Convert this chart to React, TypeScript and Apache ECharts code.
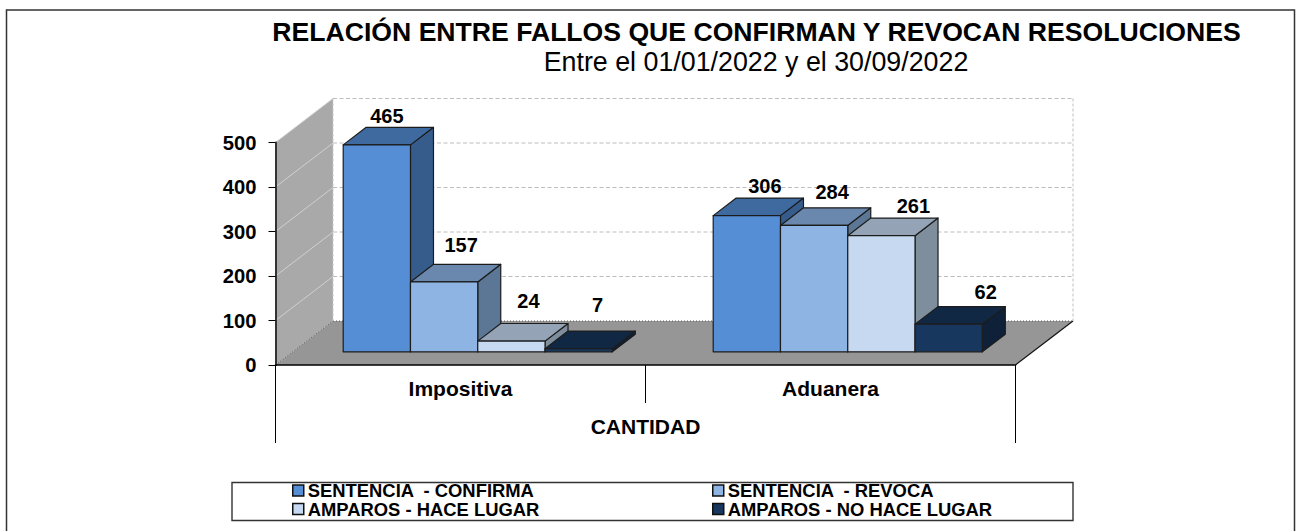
import React, { useEffect, useRef } from "react";
import * as echarts from "echarts";

const categories = ["Impositiva", "Aduanera"];
const outerCategories = ["CANTIDAD"];
const seriesNames = ["SENTENCIA  - CONFIRMA", "SENTENCIA  - REVOCA", "AMPAROS - HACE LUGAR", "AMPAROS - NO HACE LUGAR"];
const confirma = [465, 306];
const revoca = [157, 284];
const haceLugar = [24, 261];
const noHaceLugar = [7, 62];
const tickValues = [0, 100, 200, 300, 400, 500];

const frontColors = ["#558ED5", "#8EB4E3", "#C6D9F1", "#17375E"];
const topColors = ["#3F6AA0", "#6A87AD", "#95A3B6", "#112845"];
const sideColors = ["#365C8C", "#5C7796", "#7F8E9D", "#0E2139"];
// label offsets (from front-centre x, back-top y) per series, per category
const labelNudge = [
  [[10, -11], [18, -12]],
  [[17, -19], [18, -16]],
  [[17, -23], [32, -12]],
  [[19, -26], [37, -15]],
];
const FONT = "'Liberation Sans', Arial, sans-serif";
const DX = 57.5;
const DY = -44;
const BASE = 0.3;
const DEPTH = 0.4;
const STROKE = "#1c1c1c";

function wallItem(params: any, api: any) {
  const v = api.value(1);
  const c = params.coordSys;
  const x0 = c.x;
  const x1 = c.x + c.width;
  const y = api.coord([0, v])[1];
  const y0 = c.y + c.height;
  const children: any[] = [];
  if (v === 0) {
    const yTop = c.y;
    children.push({
      type: "polygon",
      shape: { points: [[x0, yTop], [x0 + DX, yTop + DY], [x0 + DX, y0 + DY], [x0, y0]] },
      style: { fill: "#A9A9A9" },
    });
    children.push({
      type: "polygon",
      shape: { points: [[x0, y0], [x1, y0], [x1 + DX, y0 + DY], [x0 + DX, y0 + DY]] },
      style: { fill: "#969696" },
    });
    children.push({ type: "line", shape: { x1, y1: y0, x2: x1 + DX, y2: y0 + DY }, style: { stroke: "#111", lineWidth: 1.2 } });
    children.push({ type: "line", shape: { x1: x0, y1: y0, x2: x0 + DX, y2: y0 + DY }, style: { stroke: "#555", lineWidth: 1, lineDash: [1, 2] } });
    children.push({ type: "line", shape: { x1: x0 + DX, y1: y0 + DY, x2: x1 + DX, y2: y0 + DY }, style: { stroke: "#555", lineWidth: 1, lineDash: [1, 2] } });
    children.push({ type: "line", shape: { x1: x1 + DX, y1: yTop + DY, x2: x1 + DX, y2: y0 + DY }, style: { stroke: "#BDBDBD", lineWidth: 1, lineDash: [3, 2] } });
    children.push({ type: "line", shape: { x1: x0 + DX, y1: yTop + DY, x2: x0 + DX, y2: y0 + DY }, style: { stroke: "#C8C8C8", lineWidth: 1, lineDash: [3, 2] } });
  } else {
    children.push({ type: "line", shape: { x1: x0, y1: y, x2: x0 + DX, y2: y + DY }, style: { stroke: "#D0D0D0", lineWidth: 1 } });
    children.push({ type: "line", shape: { x1: x0 + DX, y1: y + DY, x2: x1 + DX, y2: y + DY }, style: { stroke: "#BDBDBD", lineWidth: 1, lineDash: [4, 2.5] } });
  }
  return { type: "group", children };
}

function barRenderer(s: number) {
  return (params: any, api: any) => {
    const cat = api.value(0);
    const val = api.value(1);
    const band = api.size([1, 0])[0];
    const w = band / 5.5;
    const centre = api.coord([cat, 0]);
    const top = api.coord([cat, val]);
    const ox = DX * BASE;
    const oy = DY * BASE;
    const dx = DX * DEPTH;
    const dy = DY * DEPTH;
    const l = centre[0] - 2 * w + s * w + ox;
    const r = l + w;
    const b = centre[1] + oy;
    const t = top[1] + oy;
    const style = (fill: string) => ({ fill, stroke: STROKE, lineWidth: 1.2, lineJoin: "round" });
    const [nx, ny] = labelNudge[s][cat];
    return {
      type: "group",
      children: [
        { type: "polygon", shape: { points: [[r, b], [r + dx, b + dy], [r + dx, t + dy], [r, t]] }, style: style(sideColors[s]) },
        { type: "polygon", shape: { points: [[l, t], [r, t], [r + dx, t + dy], [l + dx, t + dy]] }, style: style(topColors[s]) },
        { type: "rect", shape: { x: l, y: t, width: w, height: b - t }, style: style(frontColors[s]) },
        {
          type: "text",
          z2: 50,
          x: (l + r) / 2 + nx,
          y: t + dy + ny,
          style: {
            text: String(val),
            fill: "#000",
            font: `bold 20px ${FONT}`,
            align: "center",
            verticalAlign: "middle",
          },
        },
      ],
    };
  };
}

export default function App() {
  const ref = useRef<HTMLDivElement>(null);
  useEffect(() => {
    document.body.style.margin = "0";
    const chart = echarts.init(ref.current!, null, { renderer: "svg" });
    const values = [confirma, revoca, haceLugar, noHaceLugar];
    const legendBase = {
      top: 481.5,
      orient: "vertical",
      itemWidth: 11,
      itemHeight: 11,
      itemGap: 0.5,
      padding: 0,
      icon: "rect",
      textStyle: { fontFamily: FONT, fontWeight: "bold", fontSize: 18.4, lineHeight: 16, color: "#000", padding: [0, 0, 0, -1] },
      itemStyle: { borderColor: "#111", borderWidth: 1.5 },
      selectedMode: false,
    };
    chart.setOption({
      animation: false,
      backgroundColor: "#fff",
      title: [
        {
          text: "RELACIÓN ENTRE FALLOS QUE CONFIRMAN Y REVOCAN RESOLUCIONES",
          left: 751.5,
          textAlign: "center",
          top: 13,
          textStyle: { fontFamily: FONT, fontWeight: "bold", fontSize: 26.6, color: "#000" },
        },
        {
          text: "Entre el 01/01/2022 y el 30/09/2022",
          left: 751,
          textAlign: "center",
          top: 43,
          textStyle: { fontFamily: FONT, fontWeight: "normal", fontSize: 26.8, color: "#000" },
        },
      ],
      grid: { left: 275.5, right: 280.5, top: 142.5, bottom: 166, containLabel: false },
      xAxis: [
        {
          type: "category",
          data: categories,
          position: "bottom",
          axisLine: { show: true, lineStyle: { color: "#000", width: 1.5 } },
          axisTick: { show: true, length: 38, lineStyle: { color: "#000", width: 1 } },
          axisLabel: { margin: 13, color: "#000", fontFamily: FONT, fontWeight: "bold", fontSize: 21 },
          z: 5,
        },
        {
          type: "category",
          data: outerCategories,
          position: "bottom",
          offset: 38,
          axisLine: { show: false },
          axisTick: { show: true, length: 40, lineStyle: { color: "#000", width: 1 } },
          axisLabel: { margin: 13, color: "#000", fontFamily: FONT, fontWeight: "bold", fontSize: 21 },
        },
      ],
      yAxis: {
        type: "value",
        min: 0,
        max: 500,
        interval: 100,
        axisLine: { show: true, lineStyle: { color: "#333", width: 2 } },
        axisTick: { show: true, length: 7, lineStyle: { color: "#000", width: 1 } },
        axisLabel: { margin: 19, color: "#000", fontFamily: FONT, fontWeight: "bold", fontSize: 20.2 },
        splitLine: { show: false },
        z: 5,
      },
      legend: [
        { ...legendBase, left: 292, data: [seriesNames[0], seriesNames[2]] },
        { ...legendBase, left: 712, data: [seriesNames[1], seriesNames[3]] },
      ],
      graphic: [
        { type: "rect", z: -10, shape: { x: 6.5, y: 10, width: 1288, height: 530 }, style: { fill: "none", stroke: "#333", lineWidth: 1.5 } },
        { type: "rect", z: -10, shape: { x: 232, y: 482.5, width: 841, height: 38 }, style: { fill: "none", stroke: "#333", lineWidth: 1.4 } },
      ],
      series: [
        {
          type: "custom",
          name: "walls",
          z: 1,
          xAxisIndex: 0,
          renderItem: wallItem,
          encode: { x: 0, y: 1 },
          data: tickValues.map((v) => [0, v]),
          silent: true,
        },
        ...seriesNames.map((name, s) => ({
          type: "custom",
          name,
          z: 3 + s,
          xAxisIndex: 0,
          itemStyle: { color: frontColors[s] },
          renderItem: barRenderer(s),
          encode: { x: 0, y: 1 },
          data: categories.map((_, i) => [i, values[s][i]]),
        })),
      ],
    });
    return () => chart.dispose();
  }, []);
  return <div ref={ref} style={{ position: "absolute", left: 0, top: 0, width: 1296, height: 531 }} />;
}
